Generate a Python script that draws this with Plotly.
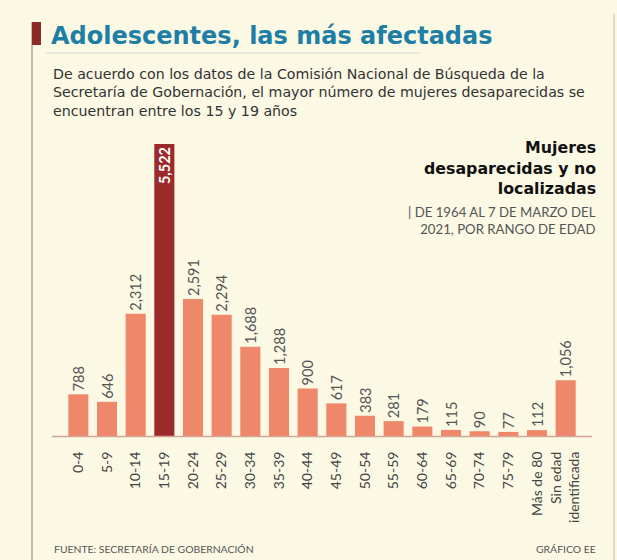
import plotly.graph_objects as go

categories = ["0-4", "5-9", "10-14", "15-19", "20-24", "25-29", "30-34", "35-39",
              "40-44", "45-49", "50-54", "55-59", "60-64", "65-69", "70-74", "75-79",
              "Más de 80", "Sin edad<br>identificada"]
values = [788, 646, 2312, 5522, 2591, 2294, 1688, 1288, 900, 617, 383, 281,
          179, 115, 90, 77, 112, 1056]
highlight = "15-19"

W, H = 617, 560
L, R, T, B = 64, 580, 144, 436  # plot area in pixels

def px(x):
    return (x - L) / (R - L)

def py(y):
    return (B - y) / (B - T)

SALMON = "#ef876a"
DARK = "#9c2a2a"
colors = [DARK if c == highlight else SALMON for c in categories]
textpos = ["inside" if c == highlight else "outside" for c in categories]
textcol = ["#ffffff" if c == highlight else "#555555" for c in categories]
labels = [f"<b>{v:,}</b>" if c == highlight else f"{v:,}" for c, v in zip(categories, values)]

fig = go.Figure(go.Bar(
    x=categories, y=values, marker=dict(color=colors, line=dict(width=0)),
    text=labels, textposition=textpos, textangle=-90,
    insidetextanchor="end", constraintext="none", cliponaxis=False,
    textfont=dict(family="Lato", size=14.5, color=textcol),
    hoverinfo="skip",
))

fig.update_layout(
    width=W, height=H,
    margin=dict(l=L, r=W - R, t=T, b=H - B, autoexpand=False),
    paper_bgcolor="#fbf8e4", plot_bgcolor="rgba(0,0,0,0)",
    bargap=0.3, showlegend=False,
    font=dict(family="Lato", color="#444444"),
)
fig.update_xaxes(tickangle=-90, showgrid=False, showline=False, zeroline=False, automargin=False,
                 ticks="outside", ticklen=9, tickcolor="rgba(0,0,0,0)",
                 tickfont=dict(family="Lato", size=14, color="#444444"))
fig.update_yaxes(range=[0, 5522], visible=False, showgrid=False, automargin=False)

shapes = [
    # baseline
    dict(type="line", xref="paper", yref="paper", x0=px(52), x1=px(592), y0=py(436.5), y1=py(436.5),
         line=dict(color="#d4a494", width=1.5)),
    # left vertical rule
    dict(type="line", xref="paper", yref="paper", x0=px(32), x1=px(32), y0=py(22), y1=py(560),
         line=dict(color="#a88a7c", width=1.2)),
    # left title marker
    dict(type="rect", xref="paper", yref="paper", x0=px(32), x1=px(41), y0=py(22), y1=py(45),
         fillcolor="#8e2a26", line=dict(width=0)),
    # right vertical rule
    dict(type="line", xref="paper", yref="paper", x0=px(614), x1=px(614), y0=py(14), y1=py(560),
         line=dict(color="#c4c0b4", width=1)),
    # line under title
    dict(type="line", xref="paper", yref="paper", x0=px(46), x1=px(420), y0=py(53), y1=py(53),
         line=dict(color="#d8d8d8", width=1)),
]

def ann(text, x, y, xanchor, yanchor, font, align="left"):
    return dict(text=text, x=px(x), y=py(y), xref="paper", yref="paper",
                xanchor=xanchor, yanchor=yanchor, align=align, font=font, showarrow=False)

annotations = [
    ann("<b>Adolescentes, las más afectadas</b>", 49, 36, "left", "middle",
        dict(family="DejaVu Sans", size=24, color="#1d7fa6")),
    ann("De acuerdo con los datos de la Comisión Nacional de Búsqueda de la<br>"
        "Secretaría de Gobernación, el mayor número de mujeres desaparecidas se<br>"
        "encuentran entre los 15 y 19 años", 51, 64, "left", "top",
        dict(family="DejaVu Sans", size=14.2, color="#333333")),
    ann("<b>Mujeres<br>desaparecidas y no<br>localizadas</b>", 598, 136, "right", "top",
        dict(family="DejaVu Sans", size=15.8, color="#111111"), align="right"),
    ann("| DE 1964 AL 7 DE MARZO DEL<br>2021, POR RANGO DE EDAD", 598, 202, "right", "top",
        dict(family="Lato", size=13.2, color="#555555"), align="right"),
    ann("FUENTE: SECRETARÍA DE GOBERNACIÓN", 52, 549, "left", "middle",
        dict(family="Lato", size=10.4, color="#555555")),
    ann("GRÁFICO EE", 598, 549, "right", "middle",
        dict(family="Lato", size=10.4, color="#555555"), align="right"),
]

fig.update_layout(shapes=shapes, annotations=annotations)
fig.write_html("out.html", config={"displayModeBar": False},
               post_script="document.body.style.margin='0';document.body.style.padding='0';"
                           "document.body.style.overflow='hidden';")
